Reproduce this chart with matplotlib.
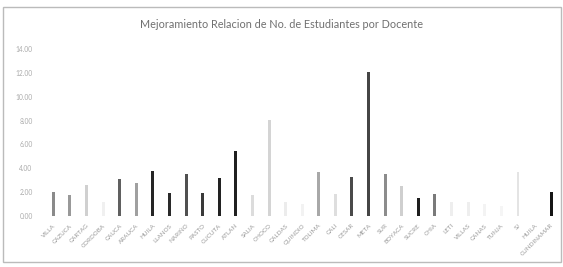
import matplotlib
matplotlib.use("Agg")
import matplotlib.pyplot as plt
from matplotlib.patches import Rectangle

categories = ["VILLA", "CAZUCA", "CARTAG", "CORDOBA", "CAUCA", "ARAUCA", "HUILA",
              "LLANOS", "NARIÑO", "PASTO", "CUCUTA", "ATLAN", "SALIA", "CHOCO",
              "CALDAS", "QUINDIO", "TOLIMA", "CALI", "CESAR", "META", "SUR",
              "BOYACA", "SUCRE", "CHIA", "LETI", "VILLAS", "CANAS", "TUNJA",
              "SJ", "HUILA", "CUNDINAMAR"]
values = [2.0, 1.75, 2.6, 1.2, 3.1, 2.8, 3.75, 1.9, 3.55, 1.9, 3.15, 5.45, 1.75, 8.05,
          1.2, 1.0, 3.7, 1.85, 3.3, 12.1, 3.5, 2.5, 1.5, 1.85, 1.2, 1.2, 1.0, 0.8,
          3.7, 0.0, 2.0]
colors = ["#8a8a8a", "#999999", "#d0d0d0", "#f0f0f0", "#606060", "#a0a0a0", "#252525",
          "#2a2a2a", "#505050", "#3a3a3a", "#222222", "#202020", "#dcdcdc", "#d4d4d4",
          "#ececec", "#f2f2f2", "#a8a8a8", "#dedede", "#4a4a4a", "#454545", "#8c8c8c",
          "#cfcfcf", "#1e1e1e", "#7a7a7a", "#eeeeee", "#eeeeee", "#f3f3f3", "#f5f5f5",
          "#e4e4e4", "#ffffff", "#151515"]
yticks = [0, 2, 4, 6, 8, 10, 12, 14]
title = "Mejoramiento Relacion de No. de Estudiantes por Docente"

fig = plt.figure(figsize=(5.63, 2.67), dpi=100)
ax = fig.add_axes([0.08, 0.191, 0.9135, 0.6255])
x = list(range(len(categories)))
widths = [0.1 if c == "#e4e4e4" else 0.18 for c in colors]
ax.bar(x, values, width=widths, color=colors)
ax.set_xlim(-0.5, len(categories) - 0.5)
ax.set_ylim(0, 14)
ax.set_yticks(yticks)
ax.set_yticklabels([f"{t:.2f}" for t in yticks], fontsize=4.8, color="#aaaaaa",
                   family="Lato")
ax.set_xticks(x)
ax.set_xticklabels(categories, rotation=45, ha="right", rotation_mode="anchor",
                   fontsize=4.5, color="#9a9a9a", family="Lato")
ax.tick_params(axis="x", length=0, pad=5)
ax.tick_params(axis="y", length=0, pad=9)
for s in ax.spines.values():
    s.set_visible(False)
fig.text(0.5, 0.91, title, ha="center", va="center", fontsize=7.8, color="#707070",
         family="Lato")
fig.patches.append(Rectangle((0.006, 0.02), 0.99, 0.955, transform=fig.transFigure,
                             fill=False, edgecolor="#bbbbbb", linewidth=1.0))
fig.savefig("out.png", dpi=100)
